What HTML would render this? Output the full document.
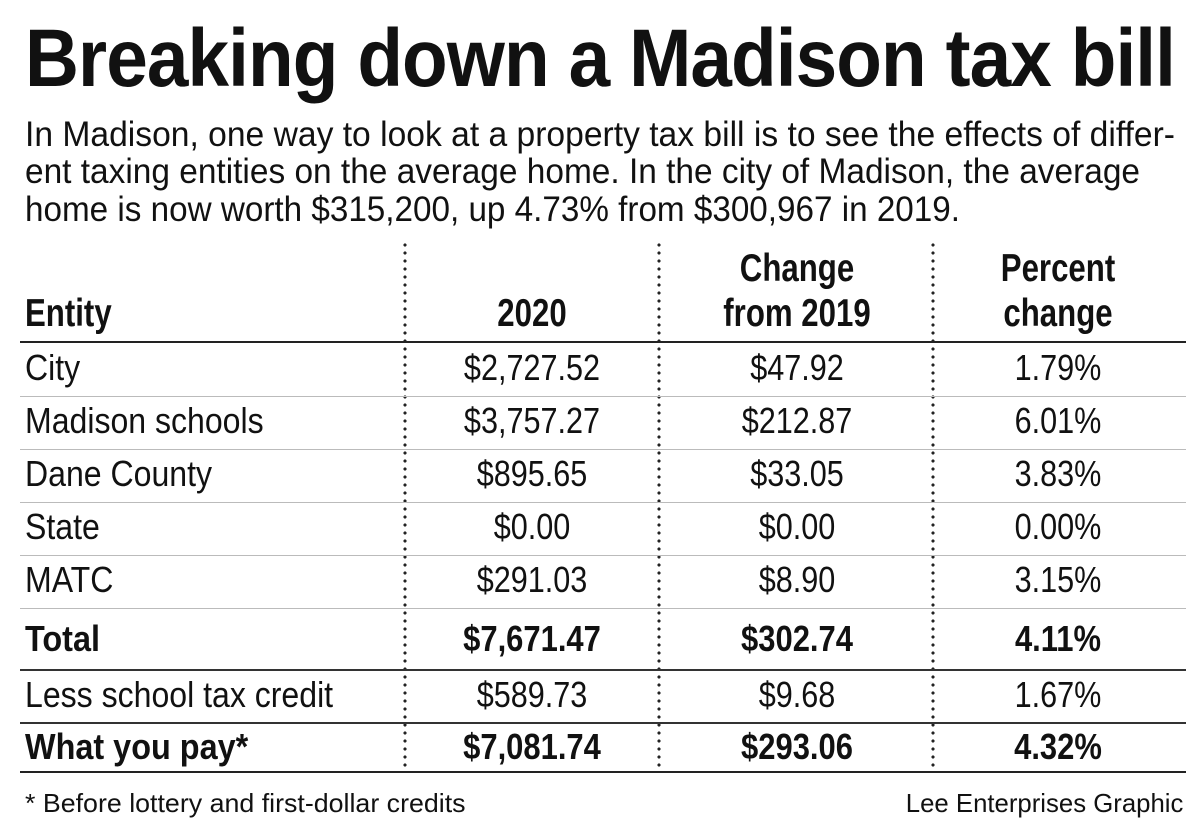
<!DOCTYPE html>
<html><head><meta charset="utf-8"><style>
html,body{margin:0;padding:0;background:#fff}
#c{position:relative;width:1200px;height:827px;overflow:hidden;background:#fff;color:#111;font-family:"Liberation Sans",sans-serif}
.t{position:absolute;white-space:nowrap;line-height:1}
.l{transform-origin:0 50%}
.m{transform-origin:50% 50%}
.hr{position:absolute;left:20px;width:1166px}
.vd{position:absolute;top:243px;height:528px;width:4px;background:radial-gradient(circle at 2px 2px,#222 1.4px,transparent 1.8px);background-size:4px 8px}
</style></head><body>
<div id="c">
<div class="t l fit" data-w="1150" style="left:25px;top:18px;font-size:82px;font-weight:bold;letter-spacing:-1px">Breaking down a Madison tax bill</div>
<div class="t l fit" data-w="1150" style="left:25px;top:117px;font-size:35px">In Madison, one way to look at a property tax bill is to see the effects of differ-</div>
<div class="t l fit" data-w="1115" style="left:25px;top:154px;font-size:35px">ent taxing entities on the average home. In the city of Madison, the average</div>
<div class="t l fit" data-w="935" style="left:25px;top:192px;font-size:35px">home is now worth $315,200, up 4.73% from $300,967 in 2019.</div>

<div class="vd" style="left:403px"></div>
<div class="vd" style="left:657px"></div>
<div class="vd" style="left:931px"></div>

<div class="hr" style="top:341px;height:2px;background:#222"></div>
<div class="hr" style="top:396px;height:1px;background:#bbb"></div>
<div class="hr" style="top:449px;height:1px;background:#bbb"></div>
<div class="hr" style="top:502px;height:1px;background:#bbb"></div>
<div class="hr" style="top:555px;height:1px;background:#bbb"></div>
<div class="hr" style="top:608px;height:1px;background:#bbb"></div>
<div class="hr" style="top:669px;height:2px;background:#333"></div>
<div class="hr" style="top:722px;height:2px;background:#333"></div>
<div class="hr" style="top:771px;height:2px;background:#222"></div>

<div class="t l" style="left:25px;top:790px;font-size:26px;transform:scaleX(1.03)">* Before lottery and first-dollar credits</div>
<div class="t" style="right:17px;top:790px;font-size:26px;transform:scaleX(.99);transform-origin:100% 50%">Lee Enterprises Graphic</div>
</div>
<script>
const entities=["City","Madison schools","Dane County","State","MATC","Total","Less school tax credit","What you pay*"];
const val2020=["$2,727.52","$3,757.27","$895.65","$0.00","$291.03","$7,671.47","$589.73","$7,081.74"];
const changes=["$47.92","$212.87","$33.05","$0.00","$8.90","$302.74","$9.68","$293.06"];
const pcts=["1.79%","6.01%","3.83%","0.00%","3.15%","4.11%","1.67%","4.32%"];
const boldRows=[false,false,false,false,false,true,false,true];
const rowCenters=[370,423,476,529,582,641,697,749];
const c=document.getElementById('c');
function txt(s,x,y,size,bold,align,sx){
  const d=document.createElement('div');
  d.className='t '+(align==='l'?'l':'m');
  d.textContent=s;
  d.style.fontSize=size+'px';
  if(bold)d.style.fontWeight='bold';
  d.style.top=(y-size*0.55)+'px';
  d.style.left=x+'px';
  if(align==='l'){d.style.transform='scaleX('+sx+')';}
  else{d.style.transform='translateX(-50%) scaleX('+sx+')';}
  c.appendChild(d);
  return d;
}
const hs=39,hsx=.8;
let h;
h=txt("Entity",25,315,hs,true,'l',hsx);


h=txt("2020",532,315,hs,true,'m',hsx);


h=txt("Change",797,270,hs,true,'m',hsx);


h=txt("from 2019",797,315,hs,true,'m',hsx);


h=txt("Percent",1058,270,hs,true,'m',hsx);


h=txt("change",1058,315,hs,true,'m',hsx);


for(let i=0;i<entities.length;i++){
  const y=rowCenters[i],b=boldRows[i],fs=36;
  let e=txt(entities[i],25,y,fs,b,'l',b?.9:.89);
  
  
  const vs=b?.86:.85;
  e=txt(val2020[i],532,y,fs,b,'m',vs);
  
  
  e=txt(changes[i],797,y,fs,b,'m',vs);
  
  
  e=txt(pcts[i],1058,y,fs,b,'m',vs);
  
  
}
document.querySelectorAll('.fit').forEach(el=>{
  const w=el.getBoundingClientRect().width;
  el.style.transform='scaleX('+(+el.dataset.w/w)+')';
});
</script>
</body></html>
